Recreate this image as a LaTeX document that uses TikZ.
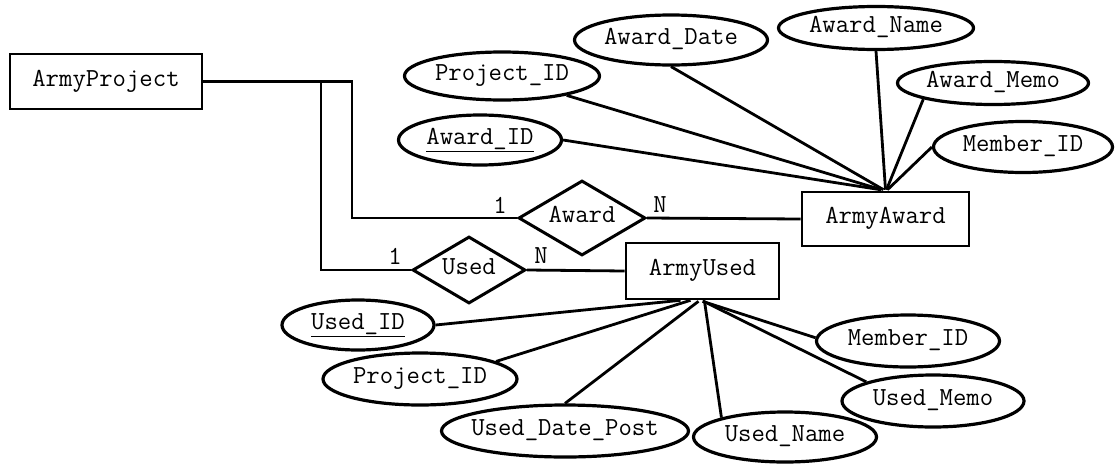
\documentclass[tikz,border=0pt]{standalone}
\usepackage{fontspec}
\usetikzlibrary{shapes.geometric,calc}
\newcommand{\ztext}[1]{\makebox[0pt][c]{#1}}
\newcommand{\zul}[1]{\setlength{\fboxsep}{0pt}\underline{#1}}
\begin{document}
\begin{tikzpicture}[x=1pt,y=-1pt,
  every node/.style={font=\ttfamily\fontsize{26}{28}\selectfont},
  ent/.style={draw,line width=2.6pt,rectangle,inner sep=0pt,text height=12pt,text depth=3pt},
  rel/.style={draw,line width=3pt,diamond,inner sep=0pt,text height=12pt,text depth=3pt},
  attr/.style={draw,line width=3.2pt,ellipse,inner sep=0pt,text height=12pt,text depth=3pt},
  con/.style={line width=2.8pt},
  card/.style={inner sep=0pt}]
\useasboundingbox (0,0) rectangle (1118,466);
% entities
\node[ent,minimum width=192pt,minimum height=55pt] (ap) at (106,81.5) {ArmyProject};
\node[ent,minimum width=167pt,minimum height=54pt] (aa) at (885.5,219) {ArmyAward};
\node[ent,minimum width=153pt,minimum height=56pt] (au) at (702.5,271) {ArmyUsed};
% relationships
\node[rel,minimum width=127pt,minimum height=75pt] (rw) at (582,218) {\ztext{Award}};
\node[rel,minimum width=113pt,minimum height=67pt] (ru) at (469,270) {\ztext{Used}};
% cardinalities
\node[card] (c1) at (500,205) {1};
\node[card] (c2) at (660,205) {N};
\node[card] (c3) at (395,256) {1};
\node[card] (c4) at (541,256) {N};
% award attributes
\node[attr,minimum width=163pt,minimum height=50pt] (aid) at (480,140) {\ztext{\underline{Award\_ID}}};
\node[attr,minimum width=195pt,minimum height=48pt] (pid1) at (502,76) {\ztext{Project\_ID}};
\node[attr,minimum width=193pt,minimum height=50pt] (ad) at (671,40) {\ztext{Award\_Date}};
\node[attr,minimum width=195pt,minimum height=43pt] (an) at (876,28) {\ztext{Award\_Name}};
\node[attr,minimum width=191pt,minimum height=43pt] (am) at (993,83) {\ztext{Award\_Memo}};
\node[attr,minimum width=179pt,minimum height=51pt] (mid1) at (1023,147) {\ztext{Member\_ID}};
% used attributes
\node[attr,minimum width=152pt,minimum height=50pt] (uid) at (358,325) {\ztext{\underline{Used\_ID}}};
\node[attr,minimum width=194pt,minimum height=52pt] (pid2) at (420,379) {\ztext{Project\_ID}};
\node[attr,minimum width=247pt,minimum height=52pt] (udp) at (565,431) {\ztext{Used\_Date\_Post}};
\node[attr,minimum width=183pt,minimum height=50pt] (un) at (785,437) {\ztext{Used\_Name}};
\node[attr,minimum width=182pt,minimum height=52pt] (um) at (933,401) {\ztext{Used\_Memo}};
\node[attr,minimum width=183pt,minimum height=52pt] (mid2) at (908,341) {\ztext{Member\_ID}};
% relationship connectors
\coordinate (ja) at (352,218);
\coordinate (ju) at (321,270);
\draw[con] (ap.east) -| (ja) -- (rw.west);
\draw[con] (ap.east) -| (ju) -- (ru.west);
\draw[con] (rw.east) -- (aa.west);
\draw[con] (ru.east) -- (au.west);
% award attribute connectors
\draw[con] (aid.east) -- ($(aa.north)+(-5,-1)$);
\draw[con] (pid1) -- ($(aa.north)+(-4,-1)$);
\draw[con] (ad.south) -- ($(aa.north)+(-2,-1)$);
\draw[con] (an.south) -- ($(aa.north)+(0,-1)$);
\draw[con] (am.193) -- ($(aa.north)+(1,-1)$);
\draw[con] (mid1.west) -- ($(aa.north)+(2,-1)$);
% used attribute connectors
\draw[con] (uid.east) -- ($(au.south)+(-22,0)$);
\draw[con] (pid2.13) -- ($(au.south)+(-12,0)$);
\draw[con] (udp.north) -- ($(au.south)+(-4,1)$);
\draw[con] (un.163) -- ($(au.south)+(2,1)$);
\draw[con] (um.164) -- ($(au.south)+(1,1)$);
\draw[con] (mid2.178) -- ($(au.south)+(0,1)$);
\end{tikzpicture}
\end{document}
